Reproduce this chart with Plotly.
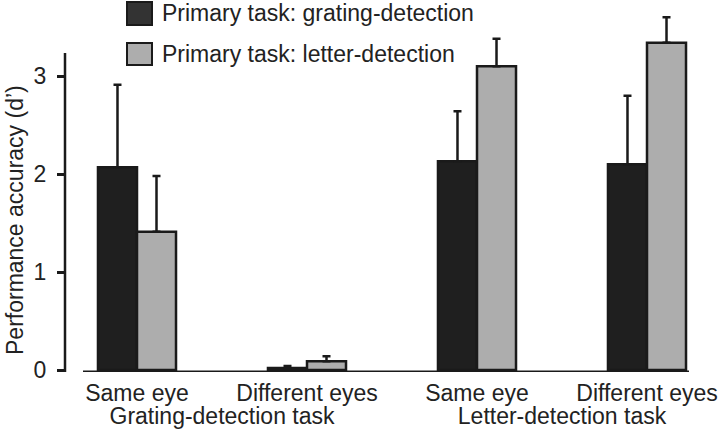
import plotly.graph_objects as go

# ---- data ----
tasks = ["Grating-detection task", "Grating-detection task",
         "Letter-detection task", "Letter-detection task"]
conditions = ["Same eye", "Different eyes", "Same eye", "Different eyes"]
series_names = ["Primary task: grating-detection", "Primary task: letter-detection"]
grating_primary = [2.07, 0.02, 2.13, 2.10]
grating_primary_err = [0.84, 0.02, 0.51, 0.70]
letter_primary = [1.41, 0.09, 3.10, 3.34]
letter_primary_err = [0.57, 0.05, 0.28, 0.26]
y_ticks = [0, 1, 2, 3]
y_title = "Performance accuracy (d’)"

# ---- style / layout constants ----
W, H = 720, 434
L, R, T, B = 65, 5, 0, 62
PW, PH = W - L - R, H - T - B
FONT = "Liberation Sans, Arial, Helvetica, sans-serif"
FS = 23
TXT = "#222222"
DARK = "#1f1f1f"
GRAY = "#adadad"
EDGE = "#1a1a1a"

def px2x(px):
    return (px - L) / PW

def py2y(py):
    return (H - B - py) / PH

x = [tasks, conditions]

fig = go.Figure()
for name, vals, errs, col in [
    (series_names[0], grating_primary, grating_primary_err, DARK),
    (series_names[1], letter_primary, letter_primary_err, GRAY),
]:
    fig.add_trace(go.Bar(
        x=x, y=vals, name=name,
        marker=dict(color=col, line=dict(color=EDGE, width=2.5)),
        error_y=dict(type="data", array=errs, arrayminus=[0] * len(errs),
                     symmetric=False, color=EDGE, thickness=2.5, width=4),
        showlegend=False,
    ))

# y axis line (offset style) and baseline
fig.add_shape(type="line", xref="paper", yref="y", x0=0, x1=0, y0=-0.02, y1=3.235,
              line=dict(color=EDGE, width=2.5))
fig.add_shape(type="line", xref="paper", yref="y", x0=px2x(83), x1=px2x(689),
              y0=-0.02, y1=-0.02, line=dict(color=EDGE, width=3))

# manual legend
leg_fills = ["#333333", "#adadad"]
leg_boxes = [(2, 25), (43, 65)]
for name, fill, (y0, y1) in zip(series_names, leg_fills, leg_boxes):
    fig.add_shape(type="rect", xref="paper", yref="paper",
                  x0=px2x(127), x1=px2x(152), y0=py2y(y1), y1=py2y(y0),
                  fillcolor=fill, line=dict(color=EDGE, width=2))
    fig.add_annotation(x=px2x(160), y=py2y((y0 + y1) / 2), xref="paper", yref="paper",
                       text=name, showarrow=False, xanchor="left", yanchor="middle",
                       font=dict(family=FONT, size=FS, color=TXT))

# y axis title
fig.add_annotation(x=px2x(15), y=py2y(220), xref="paper", yref="paper",
                   text=y_title, showarrow=False, textangle=-90,
                   xanchor="center", yanchor="middle",
                   font=dict(family=FONT, size=FS, color=TXT))

fig.update_layout(
    width=W, height=H,
    margin=dict(l=L, r=R, t=T, b=B, pad=0, autoexpand=False),
    paper_bgcolor="white", plot_bgcolor="white",
    barmode="group", bargap=0.541, bargroupgap=0,
    font=dict(family=FONT, size=FS, color=TXT),
    showlegend=False,
    xaxis=dict(type="multicategory", range=[-0.4235, 3.4], showline=False,
               showgrid=False, zeroline=False, ticks="", showdividers=False,
               automargin=False, ticklabelstandoff=5,
               tickfont=dict(family=FONT, size=FS, color=TXT)),
    yaxis=dict(range=[-0.0204, 3.776], tickvals=y_ticks, ticktext=[str(v) for v in y_ticks],
               showline=False, showgrid=False, zeroline=False, automargin=False,
               ticks="outside", ticklen=7, tickwidth=2.5, tickcolor=EDGE,
               ticklabelstandoff=6,
               tickfont=dict(family=FONT, size=FS, color=TXT)),
)

fig.write_html("out.html", config={"displayModeBar": False},
               post_script="document.body.style.margin='0';")
